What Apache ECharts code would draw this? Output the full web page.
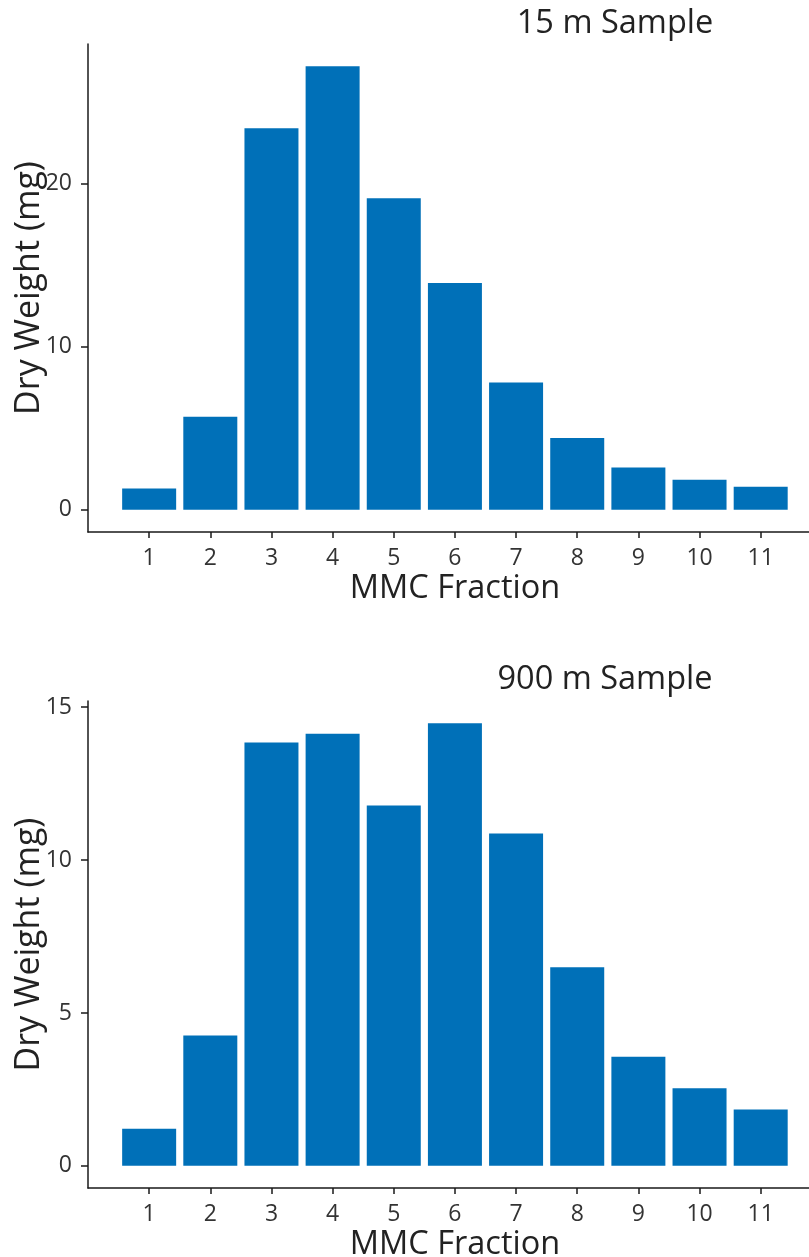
<!DOCTYPE html>
<html>
<head>
<meta charset="utf-8">
<title>MMC Fraction dry weights</title>
<script src="https://cdn.jsdelivr.net/npm/echarts@6/dist/echarts.min.js"></script>
<style>
  html, body { margin: 0; padding: 0; background: #ffffff; }
  #chart { width: 809px; height: 1257px; }
</style>
</head>
<body>
<div id="chart"></div>
<script>
// MMC fractions on the x axis
const fractions = [1, 2, 3, 4, 5, 6, 7, 8, 9, 10, 11];
// Dry weight (mg) per fraction
const sample15m = [1.3, 5.7, 23.4, 27.2, 19.1, 13.9, 7.8, 4.4, 2.6, 1.84, 1.41];
const sample900m = [1.21, 4.26, 13.85, 14.13, 11.79, 14.48, 10.87, 6.5, 3.57, 2.54, 1.84];
// Tick labels
const ticks15m = [0, 10, 20];
const ticks900m = [0, 5, 10, 15];
const panelTitles = ['15 m Sample', '900 m Sample'];

const FONT = '"Open Sans", "Noto Sans", sans-serif';
const BAR_COLOR = '#0070b8';
const AXIS_COLOR = '#1a1a1a';

// 5% padding on the value range, like a ggplot continuous scale
function yRange(values) {
  const max = Math.max(...values);
  const pad = max * 0.05;
  return { min: -pad, max: max + pad };
}

function xAxisFor(gridIndex) {
  return {
    type: 'value',
    gridIndex: gridIndex,
    min: 0,
    max: 11.79,
    splitLine: { show: false },
    axisLine: { onZero: false, lineStyle: { color: AXIS_COLOR, width: 1.5 } },
    axisTick: { customValues: fractions, length: 6, lineStyle: { color: AXIS_COLOR, width: 1.5 } },
    axisLabel: { customValues: fractions, margin: 15, fontSize: 23, color: '#333', fontFamily: FONT },
    name: 'MMC Fraction',
    nameLocation: 'middle',
    nameGap: 40,
    nameMoveOverlap: false,
    nameTextStyle: { fontSize: 32.5, color: '#222', fontFamily: FONT, padding: [0, 0, 0, 13] }
  };
}

function yAxisFor(gridIndex, values, ticks) {
  const r = yRange(values);
  return {
    type: 'value',
    gridIndex: gridIndex,
    min: r.min,
    max: r.max,
    splitLine: { show: false },
    axisLine: { show: true, onZero: false, lineStyle: { color: AXIS_COLOR, width: 1.5 } },
    axisTick: { show: true, customValues: ticks, length: 7, lineStyle: { color: AXIS_COLOR, width: 1.5 } },
    axisLabel: { customValues: ticks, margin: 16, fontSize: 23, color: '#333', fontFamily: FONT },
    name: 'Dry Weight (mg)',
    nameLocation: 'middle',
    nameGap: 42,
    nameMoveOverlap: false,
    nameTextStyle: { fontSize: 34, color: '#222', fontFamily: FONT }
  };
}

function barSeries(index, values) {
  return {
    type: 'bar',
    xAxisIndex: index,
    yAxisIndex: index,
    barWidth: 54,
    data: fractions.map((f, i) => [f, values[i]]),
    itemStyle: { color: BAR_COLOR },
    emphasis: { disabled: true },
    silent: true
  };
}

const chart = echarts.init(document.getElementById('chart'), null, { renderer: 'canvas' });
chart.setOption({
  animation: false,
  backgroundColor: '#ffffff',
  grid: [
    { left: 88, right: 0, top: 44, height: 488, containLabel: false, outerBoundsMode: 'none' },
    { left: 88, right: 0, top: 701, height: 487, containLabel: false, outerBoundsMode: 'none' }
  ],
  xAxis: [xAxisFor(0), xAxisFor(1)],
  yAxis: [yAxisFor(0, sample15m, ticks15m), yAxisFor(1, sample900m, ticks900m)],
  series: [barSeries(0, sample15m), barSeries(1, sample900m)],
  graphic: [
    {
      type: 'text', x: 615, y: 24, silent: true,
      style: { text: panelTitles[0], font: '32.5px ' + FONT, fill: '#222', align: 'center', verticalAlign: 'middle' }
    },
    {
      type: 'text', x: 605, y: 680, silent: true,
      style: { text: panelTitles[1], font: '32.5px ' + FONT, fill: '#222', align: 'center', verticalAlign: 'middle' }
    }
  ]
});
</script>
</body>
</html>
